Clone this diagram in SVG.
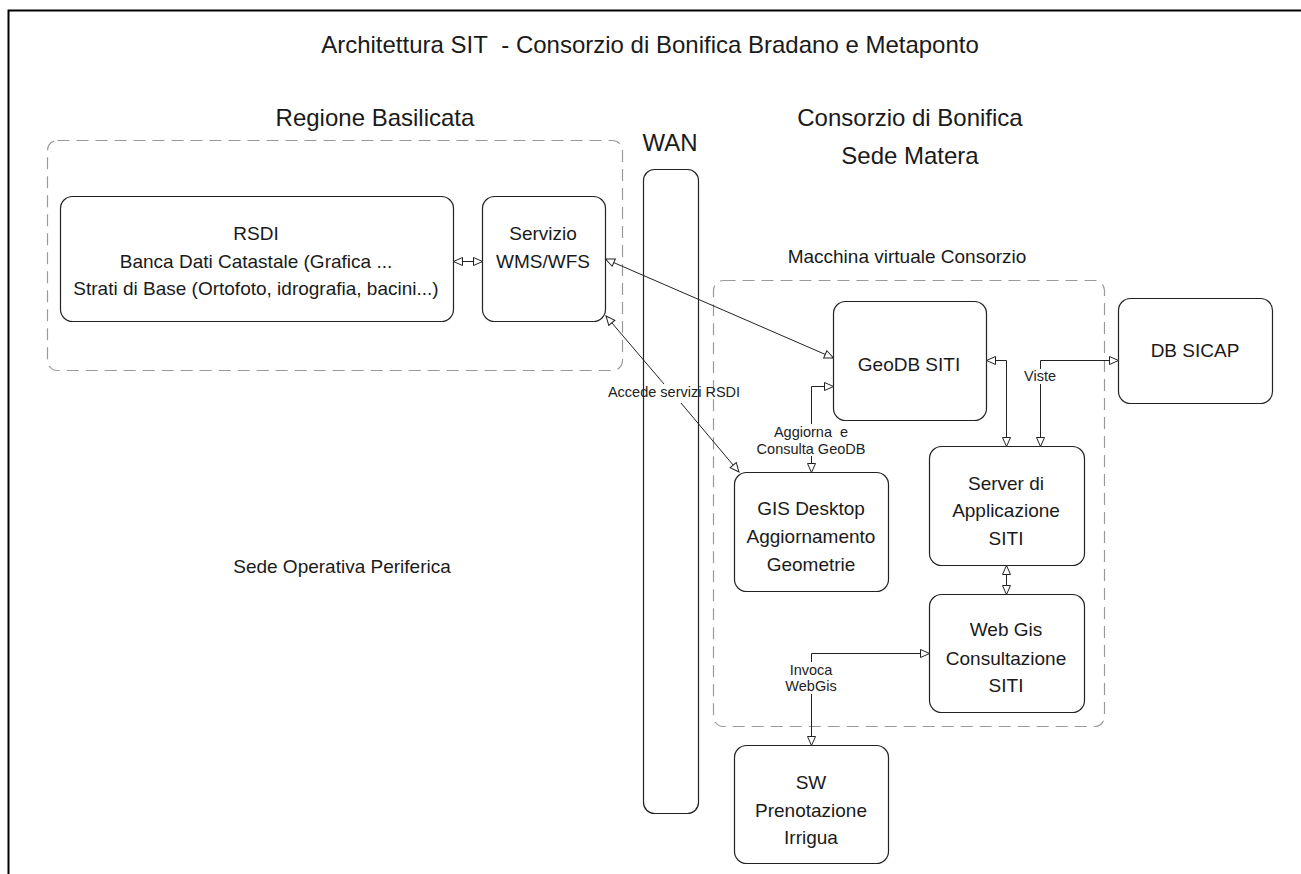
<svg xmlns="http://www.w3.org/2000/svg" width="1301" height="874" viewBox="0 0 1301 874">
<style>
text{font-family:"Liberation Sans",Arial,sans-serif;fill:#1a1a1a;text-anchor:middle}
.h{font-size:24px}
.n{font-size:19px}
.s{font-size:14.5px;fill:#222}
.box{fill:#fff;stroke:#222;stroke-width:1.2}
.grp{fill:none;stroke:#9a9a9a;stroke-width:1.2;stroke-dasharray:12 7}
.c{fill:none;stroke:#222;stroke-width:1}
.arr{marker-start:url(#ah);marker-end:url(#ah)}
.bg{fill:#fff}
</style>
<defs>
<marker id="ah" markerUnits="userSpaceOnUse" markerWidth="11" markerHeight="10" refX="10" refY="4.5" orient="auto-start-reverse" viewBox="0 0 11 10">
<path d="M1,0.5 L10,4.5 L1,8.5 Z" fill="#fff" stroke="#222" stroke-width="1"/>
</marker>
</defs>
<rect width="1301" height="874" fill="#fff"/>
<g id="frame"><path d="M8.5,874 V10.5 H1301" fill="none" stroke="#000" stroke-width="2"/></g>
<g id="title"><text class="h" x="650" y="53">Architettura SIT&#160; - Consorzio di Bonifica Bradano e Metaponto</text></g>
<g id="regione-basilicata">
<text class="h" x="375" y="126">Regione Basilicata</text>
<rect class="grp" x="47.5" y="140.5" width="575" height="230" rx="10"/>
</g>
<g id="consorzio-label"><text class="h" x="910" y="126">Consorzio di Bonifica</text><text class="h" x="910" y="164">Sede Matera</text></g>
<g id="wan"><text class="h" x="670" y="151">WAN</text><rect class="box" x="643.5" y="169.5" width="55" height="644" rx="11"/></g>
<g id="macchina-virtuale">
<text class="n" x="907" y="263">Macchina virtuale Consorzio</text>
<rect class="grp" x="713.5" y="280.5" width="391" height="446" rx="10"/>
</g>
<g id="sede-operativa"><text class="n" x="342" y="573">Sede Operativa Periferica</text></g>
<g id="rsdi"><rect class="box" x="60.5" y="196.5" width="393" height="125" rx="12"/>
<text class="n" x="256" y="240">RSDI</text><text class="n" x="256" y="268">Banca Dati Catastale (Grafica ...</text><text class="n" x="256" y="295">Strati di Base (Ortofoto, idrografia, bacini...)</text></g>
<g id="servizio"><rect class="box" x="482.5" y="196.5" width="123" height="125" rx="12"/>
<text class="n" x="543" y="240">Servizio</text><text class="n" x="543" y="268">WMS/WFS</text></g>
<g id="geodb"><rect class="box" x="833.5" y="301.5" width="153" height="119" rx="12"/><text class="n" x="909" y="371">GeoDB SITI</text></g>
<g id="dbsicap"><rect class="box" x="1118.5" y="298.5" width="154" height="105" rx="12"/><text class="n" x="1195" y="357">DB SICAP</text></g>
<g id="server"><rect class="box" x="929.5" y="446.5" width="155" height="119" rx="12"/>
<text class="n" x="1006" y="490">Server di</text><text class="n" x="1006" y="517">Applicazione</text><text class="n" x="1006" y="545">SITI</text></g>
<g id="gisdesktop"><rect class="box" x="734.5" y="472.5" width="154" height="119" rx="12"/>
<text class="n" x="811" y="515">GIS Desktop</text><text class="n" x="811" y="543">Aggiornamento</text><text class="n" x="811" y="571">Geometrie</text></g>
<g id="webgis"><rect class="box" x="929.5" y="594.5" width="155" height="118" rx="12"/>
<text class="n" x="1006" y="636">Web Gis</text><text class="n" x="1006" y="665">Consultazione</text><text class="n" x="1006" y="692">SITI</text></g>
<g id="sw"><rect class="box" x="734.5" y="745.5" width="154" height="118" rx="12"/>
<text class="n" x="811" y="789">SW</text><text class="n" x="811" y="817">Prenotazione</text><text class="n" x="811" y="844">Irrigua</text></g>
<g id="connectors">
<path class="c arr" d="M453.5,261.5 H482.5"/>
<path class="c arr" d="M605.5,259 L833.5,358"/>
<path class="c" d="M606,316 L664,384" marker-start="url(#ah)"/>
<path class="c" d="M681,403 L739,472" marker-end="url(#ah)"/>
<text class="s" x="674" y="397">Accede servizi RSDI</text>
<path class="c arr" d="M811.5,472.5 V386.5 H833.5"/>
<rect class="bg" x="752" y="424" width="118" height="32"/>
<text class="s" x="811" y="437">Aggiorna&#160; e</text>
<text class="s" x="811" y="454">Consulta GeoDB</text>
<path class="c arr" d="M986.5,360.5 H1006.5 V446.5"/>
<path class="c arr" d="M1040.5,446.5 V360.5 H1118.5"/>
<rect class="bg" x="1023" y="369" width="34" height="15"/>
<text class="s" x="1040" y="381">Viste</text>
<path class="c arr" d="M1006.5,565.5 V594.5"/>
<path class="c arr" d="M929.5,653.5 H811.5 V745.5"/>
<rect class="bg" x="782" y="662" width="58" height="32"/>
<text class="s" x="811" y="675">Invoca</text>
<text class="s" x="811" y="691">WebGis</text>
</g>
</svg>
